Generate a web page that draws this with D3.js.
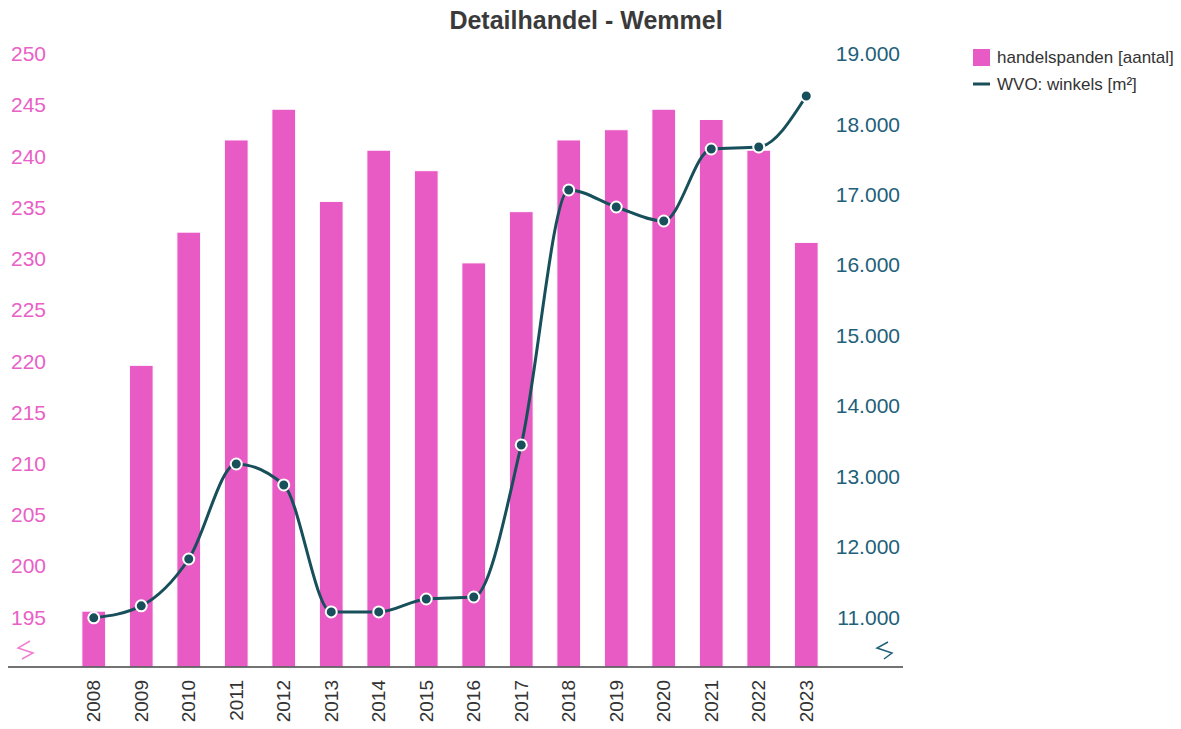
<!DOCTYPE html>
<html>
<head>
<meta charset="utf-8">
<script src="https://cdn.jsdelivr.net/npm/d3@7"></script>
<style>
  body { margin: 0; background: #fff; }
  svg { font-family: "Liberation Sans", Arial, sans-serif; display: block; }
</style>
</head>
<body>
<div id="chart"></div>
<script>
// data
var years = ['2008', '2009', '2010', '2011', '2012', '2013', '2014', '2015',
             '2016', '2017', '2018', '2019', '2020', '2021', '2022', '2023'];
var handelspanden = [196, 220, 233, 242, 245, 236, 241, 239, 230, 235, 242, 243, 245, 244, 241, 232];
var winkels = [11050, 11220, 11886, 13235, 12937, 11134, 11134, 11318,
               11346, 13505, 17126, 16884, 16685, 17708, 17736, 18460];
var leftTicks = [195, 200, 205, 210, 215, 220, 225, 230, 235, 240, 245, 250];
var rightTicks = [11000, 12000, 13000, 14000, 15000, 16000, 17000, 18000, 19000];

var width = 1181, height = 729;
var pink = '#e85bc5', pinkText = '#e960c6', teal = '#174f5a', tealText = '#22607a';
var plotTop = 58, plotBottom = 667;

var svg = d3.select('#chart').append('svg')
    .attr('width', width)
    .attr('height', height);

// scales
var x = d3.scaleBand().domain(years).range([70, 830]).paddingInner(0.5).paddingOuter(0.25);
var yL = d3.scaleLinear().domain([190.55, 250]).range([plotBottom, plotTop]);
var yR = d3.scaleLinear().domain([10352, 19000]).range([plotBottom, plotTop]);

// title
svg.append('text')
    .attr('x', 586).attr('y', 29)
    .attr('text-anchor', 'middle')
    .attr('font-size', 25).attr('font-weight', 'bold')
    .attr('fill', '#3a3a3a')
    .text('Detailhandel - Wemmel');

// bars
svg.append('g').selectAll('rect')
    .data(handelspanden)
    .enter().append('rect')
    .attr('x', (d, i) => x(years[i]))
    .attr('width', x.bandwidth())
    .attr('y', d => yL(d))
    .attr('height', d => plotBottom - yL(d))
    .attr('fill', pink)
    .attr('stroke', '#fff')
    .attr('stroke-width', 1);

// left axis labels
var leftAxis = d3.axisLeft(yL).tickValues(leftTicks).tickSize(0);
svg.append('g')
    .attr('transform', 'translate(11,0)')
    .call(leftAxis)
    .call(g => g.select('.domain').remove())
    .selectAll('text')
    .attr('x', 0).attr('dy', '0.13em')
    .attr('text-anchor', 'start')
    .attr('font-size', 21)
    .attr('font-family', '"Liberation Sans", Arial, sans-serif')
    .attr('fill', pinkText);

// right axis labels
var rightAxis = d3.axisRight(yR).tickValues(rightTicks).tickSize(0)
    .tickFormat(d => d3.format(',')(d).replace(/,/g, '.'));
svg.append('g')
    .attr('transform', 'translate(900,0)')
    .call(rightAxis)
    .call(g => g.select('.domain').remove())
    .selectAll('text')
    .attr('x', 0).attr('dy', '0.13em')
    .attr('text-anchor', 'end')
    .attr('font-size', 21)
    .attr('font-family', '"Liberation Sans", Arial, sans-serif')
    .attr('fill', tealText);

// axis break symbols
svg.append('path')
    .attr('d', 'M30,641 L18,648 L33,653 L22,659')
    .attr('fill', 'none').attr('stroke', '#f07fd2').attr('stroke-width', 1.5);
svg.append('path')
    .attr('d', 'M888,642 L877,648 L892,653 L884,659')
    .attr('fill', 'none').attr('stroke', tealText).attr('stroke-width', 1.5);

// x axis
var xAxis = d3.axisBottom(x).tickSize(0);
svg.append('g')
    .attr('transform', 'translate(0,' + plotBottom + ')')
    .call(xAxis)
    .call(g => g.select('.domain').remove())
    .selectAll('text')
    .attr('transform', 'rotate(-90)')
    .attr('x', -13).attr('y', 0).attr('dy', '0.35em')
    .attr('text-anchor', 'end')
    .attr('font-size', 19)
    .attr('font-family', '"Liberation Sans", Arial, sans-serif')
    .attr('fill', '#333');
svg.append('line')
    .attr('x1', 8).attr('x2', 903)
    .attr('y1', plotBottom).attr('y2', plotBottom)
    .attr('stroke', '#444').attr('stroke-width', 1.5);

// line
var line = d3.line()
    .x((d, i) => x(years[i]) + x.bandwidth() / 2)
    .y(d => yR(d))
    .curve(d3.curveMonotoneX);
svg.append('path')
    .datum(winkels)
    .attr('d', line)
    .attr('fill', 'none')
    .attr('stroke', teal)
    .attr('stroke-width', 3);

svg.append('g').selectAll('circle')
    .data(winkels)
    .enter().append('circle')
    .attr('cx', (d, i) => x(years[i]) + x.bandwidth() / 2)
    .attr('cy', d => yR(d))
    .attr('r', 5.5)
    .attr('fill', teal)
    .attr('stroke', '#fff')
    .attr('stroke-width', 2);

// legend
var legend = svg.append('g').attr('transform', 'translate(973,0)');
legend.append('rect')
    .attr('x', 0).attr('y', 49).attr('width', 17).attr('height', 17)
    .attr('fill', pink);
legend.append('text')
    .attr('x', 24).attr('y', 57).attr('dy', '0.35em')
    .attr('font-size', 17).attr('fill', '#333')
    .text('handelspanden [aantal]');
legend.append('line')
    .attr('x1', 0).attr('x2', 17).attr('y1', 84).attr('y2', 84)
    .attr('stroke', teal).attr('stroke-width', 3);
legend.append('text')
    .attr('x', 24).attr('y', 84).attr('dy', '0.35em')
    .attr('font-size', 17).attr('fill', '#333')
    .text('WVO: winkels [m²]');
</script>
</body>
</html>
